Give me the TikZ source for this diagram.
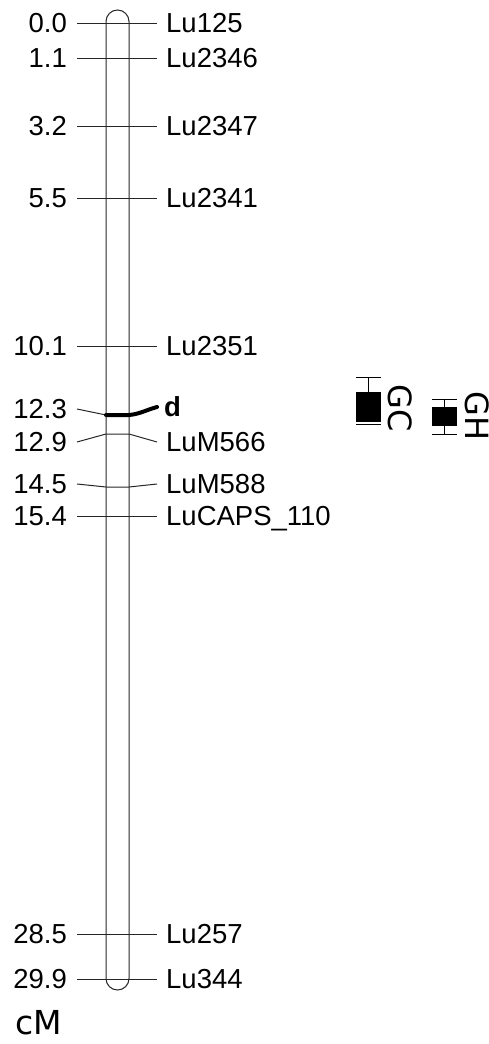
\documentclass[tikz,border=0pt]{standalone}
\usepackage{fontspec}
\setmainfont{Liberation Sans}
\newfontfamily\dvs{DejaVu Sans}
\begin{document}
\begin{tikzpicture}[x=1pt,y=-1pt,
  lbl/.style={font=\fontsize{27.5}{27.5}\selectfont, inner sep=0pt},
  leftlbl/.style={lbl, anchor=base east},
  rightlbl/.style={lbl, anchor=base west},
  tick/.style={line width=1pt, black!85},
  chrom/.style={line width=1pt, black!85},
  qtl/.style={line width=1pt, black}]
\useasboundingbox (0,0) rectangle (489,1044);
% chromosome
\draw[chrom, rounded corners=11.5pt] (106,10) rectangle (129,990);
% markers: name, y-pos
\foreach \n/\v/\y in {a/0.0/23, b/1.1/58, c/3.2/126, e/5.5/198, f/10.1/346, g/15.4/516, h/28.5/934, i/29.9/979}{
  \node[leftlbl] (L\n) at (67,\y+9.5) {\v};
  \coordinate (l\n) at (77,\y);
  \coordinate (r\n) at (157,\y);
}
\node[rightlbl] (Ra) at (166,23+9.5) {Lu125};
\node[rightlbl] (Rb) at (166,58+9.5) {Lu2346};
\node[rightlbl] (Rc) at (166,126+9.5) {Lu2347};
\node[rightlbl] (Re) at (166,198+9.5) {Lu2341};
\node[rightlbl] (Rf) at (166,346+9.5) {Lu2351};
\node[rightlbl] (Rg) at (166,516+9.5) {LuCAPS\_110};
\node[rightlbl] (Rh) at (166,934+9.5) {Lu257};
\node[rightlbl] (Ri) at (166,979+9.5) {Lu344};
\foreach \n in {a,b,c,e,f,g,h,i}{
  \draw[tick] (l\n) -- (r\n);
}
% bent markers
\node[leftlbl] (Ld) at (67,409+9.5) {12.3};
\node[rightlbl, font=\fontsize{27.5}{27.5}\selectfont\bfseries] (Rd) at (164,407+9.5) {d};
\coordinate (ld) at (77,409);
\coordinate (cdl) at (106,415);
\coordinate (cdr) at (129,415);
\coordinate (rd) at (157,407);
\draw[tick] (ld) -- (cdl);
\draw[line width=4pt, line cap=round] (cdl) -- (cdr) .. controls (140,414) and (146,410) .. (rd);

\node[leftlbl] (Lm1) at (67,442+9.5) {12.9};
\node[rightlbl] (Rm1) at (166,442+9.5) {LuM566};
\coordinate (lm1) at (77,442);
\coordinate (rm1) at (157,442);
\draw[tick] (lm1) -- (106,434) -- (129,434) -- (rm1);

\node[leftlbl] (Lm2) at (67,484+9.5) {14.5};
\node[rightlbl] (Rm2) at (166,484+9.5) {LuM588};
\coordinate (lm2) at (77,484);
\coordinate (rm2) at (157,484);
\draw[tick] (lm2) -- (106,487) -- (129,487) -- (rm2);

% QTL GC
\fill[black] (356,392) rectangle (381,422);
\draw[qtl] (368,377) -- (368,392);
\draw[qtl] (356,377) -- (381,377);
\draw[qtl] (356,424) -- (381,424);
\node[font=\dvs\fontsize{32}{32}\selectfont, rotate=-90, inner sep=0pt] (GC) at (400,408) {GC};
% QTL GH
\fill[black] (432,407) rectangle (457,426);
\draw[qtl] (444,399) -- (444,434);
\draw[qtl] (432,399) -- (457,399);
\draw[qtl] (432,434) -- (457,434);
\node[font=\dvs\fontsize{32}{32}\selectfont, rotate=-90, inner sep=0pt] (GH) at (477,416) {GH};
% unit
\node[font=\dvs\fontsize{33}{33}\selectfont, inner sep=0pt, anchor=base west] (cM) at (15,1034) {cM};
\end{tikzpicture}
\end{document}
